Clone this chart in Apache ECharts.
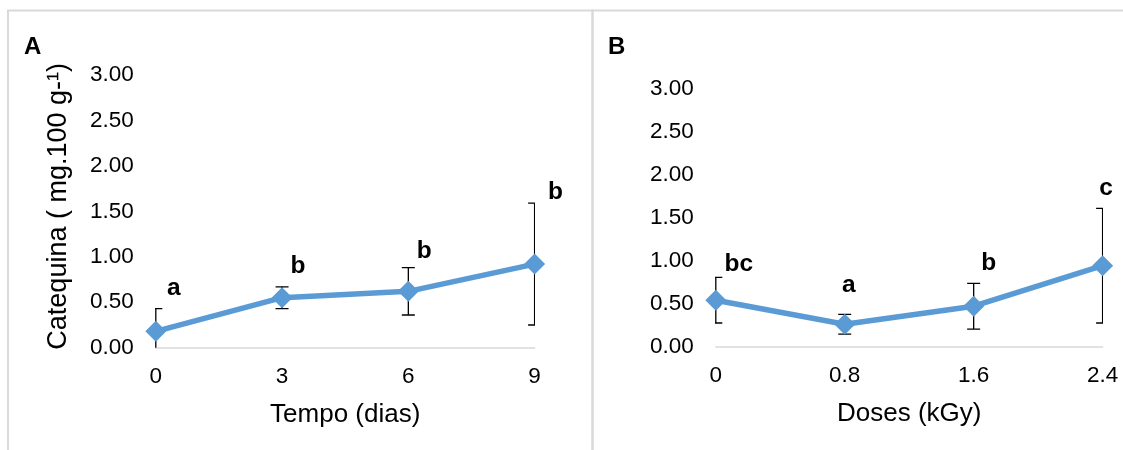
<!DOCTYPE html>
<html>
<head>
<meta charset="utf-8">
<script src="https://cdn.jsdelivr.net/npm/echarts@6/dist/echarts.min.js"></script>
<style>
  html, body { margin: 0; padding: 0; background: #ffffff; }
  #chart { width: 1123px; height: 450px; }
</style>
</head>
<body>
<div id="chart"></div>
<script>
// Panel A: catechin content over storage time
const daysA = ['0', '3', '6', '9'];
const catechinA = [0.18, 0.55, 0.62, 0.92];
const sdA = [0.25, 0.12, 0.26, 0.67];
const lettersA = ['a', 'b', 'b', 'b'];

// Panel B: catechin content by irradiation dose
const dosesB = ['0', '0.8', '1.6', '2.4'];
const catechinB = [0.54, 0.26, 0.47, 0.94];
const sdB = [0.265, 0.115, 0.265, 0.665];
const lettersB = ['bc', 'a', 'b', 'c'];

// Value axis range shared by both panels
const yMin = 0;
const yMax = 3;
const yStep = 0.5;

// Where each significance letter sits relative to its point (px)
const letterOffsetA = [[18, -43], [16, -31], [16, -40], [21, -72]];
const letterOffsetB = [[23, -36], [4, -39], [15, -43], [3.5, -77]];

const FONT = "'Liberation Sans', Arial, sans-serif";
const LINE_COLOR = '#5b9bd5';
const BORDER_COLOR = '#d9d9d9';

function errorRows(mean, sd) {
  return mean.map((m, i) => [i, m, sd[i]]);
}

function renderErrorBar(params, api) {
  const x = api.value(0);
  const m = api.value(1);
  const s = api.value(2);
  const top = api.coord([x, m + s]);
  const bot = api.coord([x, m - s]);
  const half = 6.5;
  const style = { stroke: '#000000', lineWidth: 1.3 };
  return {
    type: 'group',
    children: [
      { type: 'line', shape: { x1: top[0], y1: top[1], x2: bot[0], y2: bot[1] }, style },
      { type: 'line', shape: { x1: top[0] - half, y1: top[1], x2: top[0] + half, y2: top[1] }, style },
      { type: 'line', shape: { x1: bot[0] - half, y1: bot[1], x2: bot[0] + half, y2: bot[1] }, style }
    ]
  };
}

function letterRenderer(letters, offsets) {
  return function (params, api) {
    const i = params.dataIndex;
    const p = api.coord([api.value(0), api.value(1)]);
    return {
      type: 'text',
      x: p[0] + offsets[i][0],
      y: p[1] + offsets[i][1],
      style: {
        text: letters[i],
        fontFamily: FONT,
        fontWeight: 'bold',
        fontSize: 24.5,
        fill: '#000000',
        align: 'center',
        verticalAlign: 'middle'
      }
    };
  };
}

function xAxisFor(gridIndex, cats, title) {
  return {
    gridIndex,
    type: 'category',
    data: cats,
    boundaryGap: false,
    axisLine: { lineStyle: { color: BORDER_COLOR, width: 1.5 } },
    axisTick: { show: false },
    axisLabel: { fontFamily: FONT, fontSize: 22.5, color: '#000000', margin: 18 },
    name: title,
    nameLocation: 'middle',
    nameGap: 54,
    nameTextStyle: { fontFamily: FONT, fontSize: 26, color: '#000000' }
  };
}

function yAxisFor(gridIndex, title) {
  const axis = {
    gridIndex,
    type: 'value',
    min: yMin,
    max: yMax,
    interval: yStep,
    splitLine: { show: false },
    axisLine: { show: false },
    axisTick: { show: false },
    axisLabel: {
      fontFamily: FONT, fontSize: 22.5, color: '#000000', margin: 22,
      formatter: v => v.toFixed(2)
    }
  };
  if (title) {
    axis.name = title;
    axis.nameLocation = 'middle';
    axis.nameGap = 84;
    axis.nameTextStyle = { fontFamily: FONT, fontSize: 27, color: '#000000', padding: [0, 0, 0, 10] };
  }
  return axis;
}

function panelSeries(idx, mean, sd, letters, offsets) {
  return [
    {
      type: 'custom',
      xAxisIndex: idx, yAxisIndex: idx,
      data: errorRows(mean, sd),
      encode: { x: 0, y: 1 },
      renderItem: renderErrorBar,
      clip: true,
      z: 1,
      silent: true
    },
    {
      type: 'line',
      xAxisIndex: idx, yAxisIndex: idx,
      data: mean,
      symbol: 'diamond',
      symbolSize: 21,
      lineStyle: { color: LINE_COLOR, width: 5.5 },
      itemStyle: { color: LINE_COLOR },
      z: 3,
      silent: true,
      animation: false
    },
    {
      type: 'custom',
      xAxisIndex: idx, yAxisIndex: idx,
      data: errorRows(mean, sd),
      encode: { x: 0, y: 1 },
      renderItem: letterRenderer(letters, offsets),
      clip: false,
      z: 4,
      silent: true
    }
  ];
}

const chart = echarts.init(document.getElementById('chart'), null, { renderer: 'canvas' });

chart.setOption({
  animation: false,
  backgroundColor: '#ffffff',
  grid: [
    { left: 155.8, right: 1123 - 534.6, top: 75, bottom: 450 - 347.7 },
    { left: 715.8, right: 1123 - 1102.6, top: 88.3, bottom: 450 - 346.7 }
  ],
  xAxis: [
    xAxisFor(0, daysA, 'Tempo (dias)'),
    xAxisFor(1, dosesB, 'Doses (kGy)')
  ],
  yAxis: [
    yAxisFor(0, 'Catequina ( mg.100 g-\u00b9)'),
    yAxisFor(1, null)
  ],
  graphic: [
    {
      type: 'rect', silent: true, z: -1,
      shape: { x: 8, y: 10.5, width: 584.5, height: 460 },
      style: { fill: 'none', stroke: BORDER_COLOR, lineWidth: 2 }
    },
    {
      type: 'rect', silent: true, z: -1,
      shape: { x: 592.5, y: 10.5, width: 560, height: 460 },
      style: { fill: 'none', stroke: BORDER_COLOR, lineWidth: 2 }
    },
    {
      type: 'text', x: 24, y: 35,
      style: { text: 'A', fontFamily: FONT, fontWeight: 'bold', fontSize: 24, fill: '#000000', verticalAlign: 'top' }
    },
    {
      type: 'text', x: 608, y: 35,
      style: { text: 'B', fontFamily: FONT, fontWeight: 'bold', fontSize: 24, fill: '#000000', verticalAlign: 'top' }
    }
  ],
  series: [
    ...panelSeries(0, catechinA, sdA, lettersA, letterOffsetA),
    ...panelSeries(1, catechinB, sdB, lettersB, letterOffsetB)
  ]
});
</script>
</body>
</html>
